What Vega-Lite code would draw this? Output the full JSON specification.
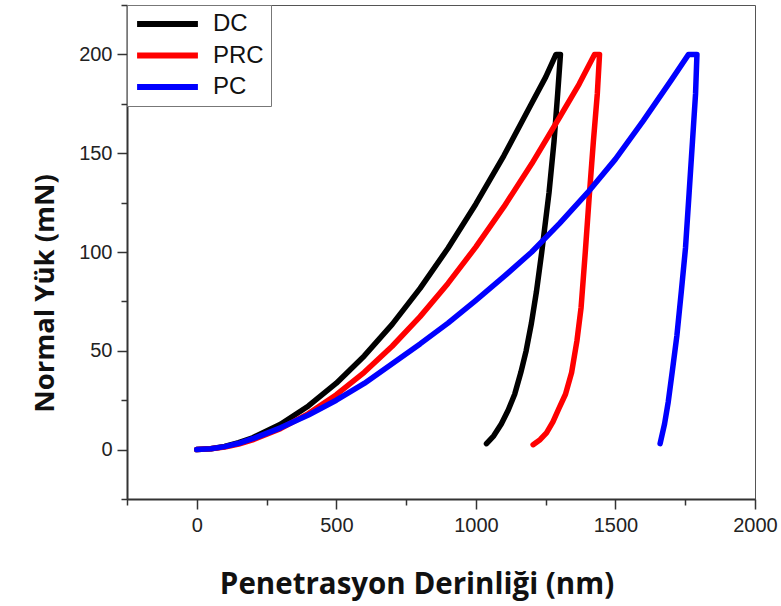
{
  "$schema": "https://vega.github.io/schema/vega-lite/v6.json",
  "width": 628,
  "height": 494,
  "autosize": {"type": "none"},
  "padding": {"left": 127, "top": 5, "right": 26, "bottom": 107},
  "background": "white",
  "config": {
    "view": {"stroke": "#555", "strokeWidth": 1},
    "font": "Liberation Sans"
  },
  "data": {
    "values": [
      {"s": "DC", "i": 0, "x": 0, "y": 0},
      {"s": "DC", "i": 1, "x": 50, "y": 0.4},
      {"s": "DC", "i": 2, "x": 100, "y": 1.6},
      {"s": "DC", "i": 3, "x": 150, "y": 3.5},
      {"s": "DC", "i": 4, "x": 200, "y": 6.0},
      {"s": "DC", "i": 5, "x": 300, "y": 12.8},
      {"s": "DC", "i": 6, "x": 400, "y": 22.1},
      {"s": "DC", "i": 7, "x": 500, "y": 33.6},
      {"s": "DC", "i": 8, "x": 600, "y": 47.4},
      {"s": "DC", "i": 9, "x": 700, "y": 63.4},
      {"s": "DC", "i": 10, "x": 800, "y": 81.6},
      {"s": "DC", "i": 11, "x": 900, "y": 101.9},
      {"s": "DC", "i": 12, "x": 1000, "y": 124.3},
      {"s": "DC", "i": 13, "x": 1100, "y": 148.7},
      {"s": "DC", "i": 14, "x": 1200, "y": 175.3},
      {"s": "DC", "i": 15, "x": 1250, "y": 188.5},
      {"s": "DC", "i": 16, "x": 1287, "y": 200},
      {"s": "DC", "i": 17, "x": 1303, "y": 200},
      {"s": "DC", "i": 18, "x": 1293, "y": 180},
      {"s": "DC", "i": 19, "x": 1280, "y": 156},
      {"s": "DC", "i": 20, "x": 1262, "y": 130},
      {"s": "DC", "i": 21, "x": 1236, "y": 100},
      {"s": "DC", "i": 22, "x": 1217, "y": 80},
      {"s": "DC", "i": 23, "x": 1199, "y": 64},
      {"s": "DC", "i": 24, "x": 1180, "y": 50},
      {"s": "DC", "i": 25, "x": 1161, "y": 39},
      {"s": "DC", "i": 26, "x": 1139, "y": 28},
      {"s": "DC", "i": 27, "x": 1116, "y": 20},
      {"s": "DC", "i": 28, "x": 1091, "y": 13},
      {"s": "DC", "i": 29, "x": 1064, "y": 7},
      {"s": "DC", "i": 30, "x": 1038, "y": 3},
      {"s": "PRC", "i": 0, "x": 0, "y": 0},
      {"s": "PRC", "i": 1, "x": 50, "y": 0.4},
      {"s": "PRC", "i": 2, "x": 100, "y": 1.3},
      {"s": "PRC", "i": 3, "x": 150, "y": 2.8},
      {"s": "PRC", "i": 4, "x": 200, "y": 4.9},
      {"s": "PRC", "i": 5, "x": 300, "y": 10.6},
      {"s": "PRC", "i": 6, "x": 400, "y": 18.2},
      {"s": "PRC", "i": 7, "x": 500, "y": 27.8},
      {"s": "PRC", "i": 8, "x": 600, "y": 39.1},
      {"s": "PRC", "i": 9, "x": 700, "y": 52.3},
      {"s": "PRC", "i": 10, "x": 800, "y": 67.3},
      {"s": "PRC", "i": 11, "x": 900, "y": 84.1},
      {"s": "PRC", "i": 12, "x": 1000, "y": 102.6},
      {"s": "PRC", "i": 13, "x": 1100, "y": 122.8},
      {"s": "PRC", "i": 14, "x": 1200, "y": 144.6},
      {"s": "PRC", "i": 15, "x": 1300, "y": 168.2},
      {"s": "PRC", "i": 16, "x": 1370, "y": 185},
      {"s": "PRC", "i": 17, "x": 1425, "y": 200},
      {"s": "PRC", "i": 18, "x": 1443, "y": 200},
      {"s": "PRC", "i": 19, "x": 1435, "y": 180},
      {"s": "PRC", "i": 20, "x": 1421, "y": 156},
      {"s": "PRC", "i": 21, "x": 1406, "y": 128},
      {"s": "PRC", "i": 22, "x": 1392, "y": 100},
      {"s": "PRC", "i": 23, "x": 1377, "y": 72},
      {"s": "PRC", "i": 24, "x": 1362, "y": 55},
      {"s": "PRC", "i": 25, "x": 1343, "y": 39},
      {"s": "PRC", "i": 26, "x": 1321, "y": 28},
      {"s": "PRC", "i": 27, "x": 1298, "y": 21},
      {"s": "PRC", "i": 28, "x": 1276, "y": 14},
      {"s": "PRC", "i": 29, "x": 1253, "y": 8.5},
      {"s": "PRC", "i": 30, "x": 1230, "y": 5},
      {"s": "PRC", "i": 31, "x": 1205, "y": 2.5},
      {"s": "PC", "i": 0, "x": 0, "y": 0},
      {"s": "PC", "i": 1, "x": 50, "y": 0.4},
      {"s": "PC", "i": 2, "x": 100, "y": 1.5},
      {"s": "PC", "i": 3, "x": 150, "y": 3.2},
      {"s": "PC", "i": 4, "x": 200, "y": 5.5},
      {"s": "PC", "i": 5, "x": 300, "y": 11},
      {"s": "PC", "i": 6, "x": 400, "y": 17.5},
      {"s": "PC", "i": 7, "x": 500, "y": 25},
      {"s": "PC", "i": 8, "x": 600, "y": 33.5},
      {"s": "PC", "i": 9, "x": 700, "y": 43.5},
      {"s": "PC", "i": 10, "x": 800, "y": 53.5},
      {"s": "PC", "i": 11, "x": 900, "y": 64},
      {"s": "PC", "i": 12, "x": 1000, "y": 75.5},
      {"s": "PC", "i": 13, "x": 1100, "y": 87.5},
      {"s": "PC", "i": 14, "x": 1200, "y": 100},
      {"s": "PC", "i": 15, "x": 1300, "y": 114.5},
      {"s": "PC", "i": 16, "x": 1400, "y": 130},
      {"s": "PC", "i": 17, "x": 1500, "y": 147},
      {"s": "PC", "i": 18, "x": 1600, "y": 166.5},
      {"s": "PC", "i": 19, "x": 1700, "y": 187},
      {"s": "PC", "i": 20, "x": 1762, "y": 200},
      {"s": "PC", "i": 21, "x": 1792, "y": 200},
      {"s": "PC", "i": 22, "x": 1787, "y": 180},
      {"s": "PC", "i": 23, "x": 1776, "y": 156},
      {"s": "PC", "i": 24, "x": 1764, "y": 130},
      {"s": "PC", "i": 25, "x": 1751, "y": 102},
      {"s": "PC", "i": 26, "x": 1736, "y": 80},
      {"s": "PC", "i": 27, "x": 1720, "y": 57.5},
      {"s": "PC", "i": 28, "x": 1704, "y": 40},
      {"s": "PC", "i": 29, "x": 1689, "y": 24},
      {"s": "PC", "i": 30, "x": 1676, "y": 13},
      {"s": "PC", "i": 31, "x": 1660, "y": 3}
    ]
  },
  "mark": {"type": "line", "strokeWidth": 5.5, "strokeCap": "round", "strokeJoin": "round", "clip": true},
  "encoding": {
    "x": {
      "field": "x",
      "type": "quantitative",
      "scale": {"domain": [-250, 2000], "nice": false, "zero": false},
      "axis": {
        "title": "Penetrasyon Derinliği (nm)",
        "values": [-250, 0, 250, 500, 750, 1000, 1250, 1500, 1750, 2000],
        "labelExpr": "datum.value % 500 === 0 ? datum.label : ''",
        "format": "d",
        "grid": false,
        "domainColor": "#333",
        "domainWidth": 2,
        "tickColor": "#333",
        "tickWidth": 1.5,
        "tickSize": {"condition": {"test": "datum.value % 500 === 0", "value": 10}, "value": 6},
        "labelFont": "Liberation Sans",
        "labelFontSize": 20,
        "labelColor": "#222",
        "labelPadding": 6,
        "labelFlush": false,
        "titleFont": "Open Sans",
        "titleFontWeight": "bold",
        "titleFontSize": 29.5,
        "titleColor": "#111",
        "titleX": 289.5,
        "titleY": 94,
        "titleBaseline": "alphabetic",
        "titleAlign": "center"
      }
    },
    "y": {
      "field": "y",
      "type": "quantitative",
      "scale": {"domain": [-25, 225], "nice": false, "zero": false},
      "axis": {
        "title": "Normal Yük (mN)",
        "values": [-25, 0, 25, 50, 75, 100, 125, 150, 175, 200, 225],
        "labelExpr": "datum.value % 50 === 0 ? datum.label : ''",
        "grid": false,
        "domainColor": "#333",
        "domainWidth": 2,
        "tickColor": "#333",
        "tickWidth": 1.5,
        "tickSize": {"condition": {"test": "datum.value % 50 === 0", "value": 10}, "value": 6},
        "labelFont": "Liberation Sans",
        "labelFontSize": 20,
        "labelColor": "#222",
        "labelPadding": 5,
        "labelFlush": false,
        "titleFont": "Open Sans",
        "titleFontWeight": "bold",
        "titleFontSize": 27.5,
        "titleColor": "#111",
        "titleAngle": -90,
        "titleX": -74,
        "titleY": 288,
        "titleBaseline": "alphabetic",
        "titleAlign": "center"
      }
    },
    "order": {"field": "i", "type": "quantitative"},
    "color": {
      "field": "s",
      "type": "nominal",
      "sort": ["DC", "PRC", "PC"],
      "scale": {"domain": ["DC", "PRC", "PC"], "range": ["#000000", "#ff0000", "#0000ff"]},
      "legend": {
        "title": null,
        "orient": "top-left",
        "offset": 0,
        "padding": 7,
        "strokeColor": "#777",
        "fillColor": "white",
        "symbolType": "stroke",
        "symbolSize": 3700,
        "symbolStrokeWidth": 6,
        "clipHeight": 24,
        "labelFont": "Liberation Sans",
        "labelFontSize": 24,
        "labelColor": "#111",
        "labelOffset": 12,
        "rowPadding": 7.5
      }
    }
  }
}
